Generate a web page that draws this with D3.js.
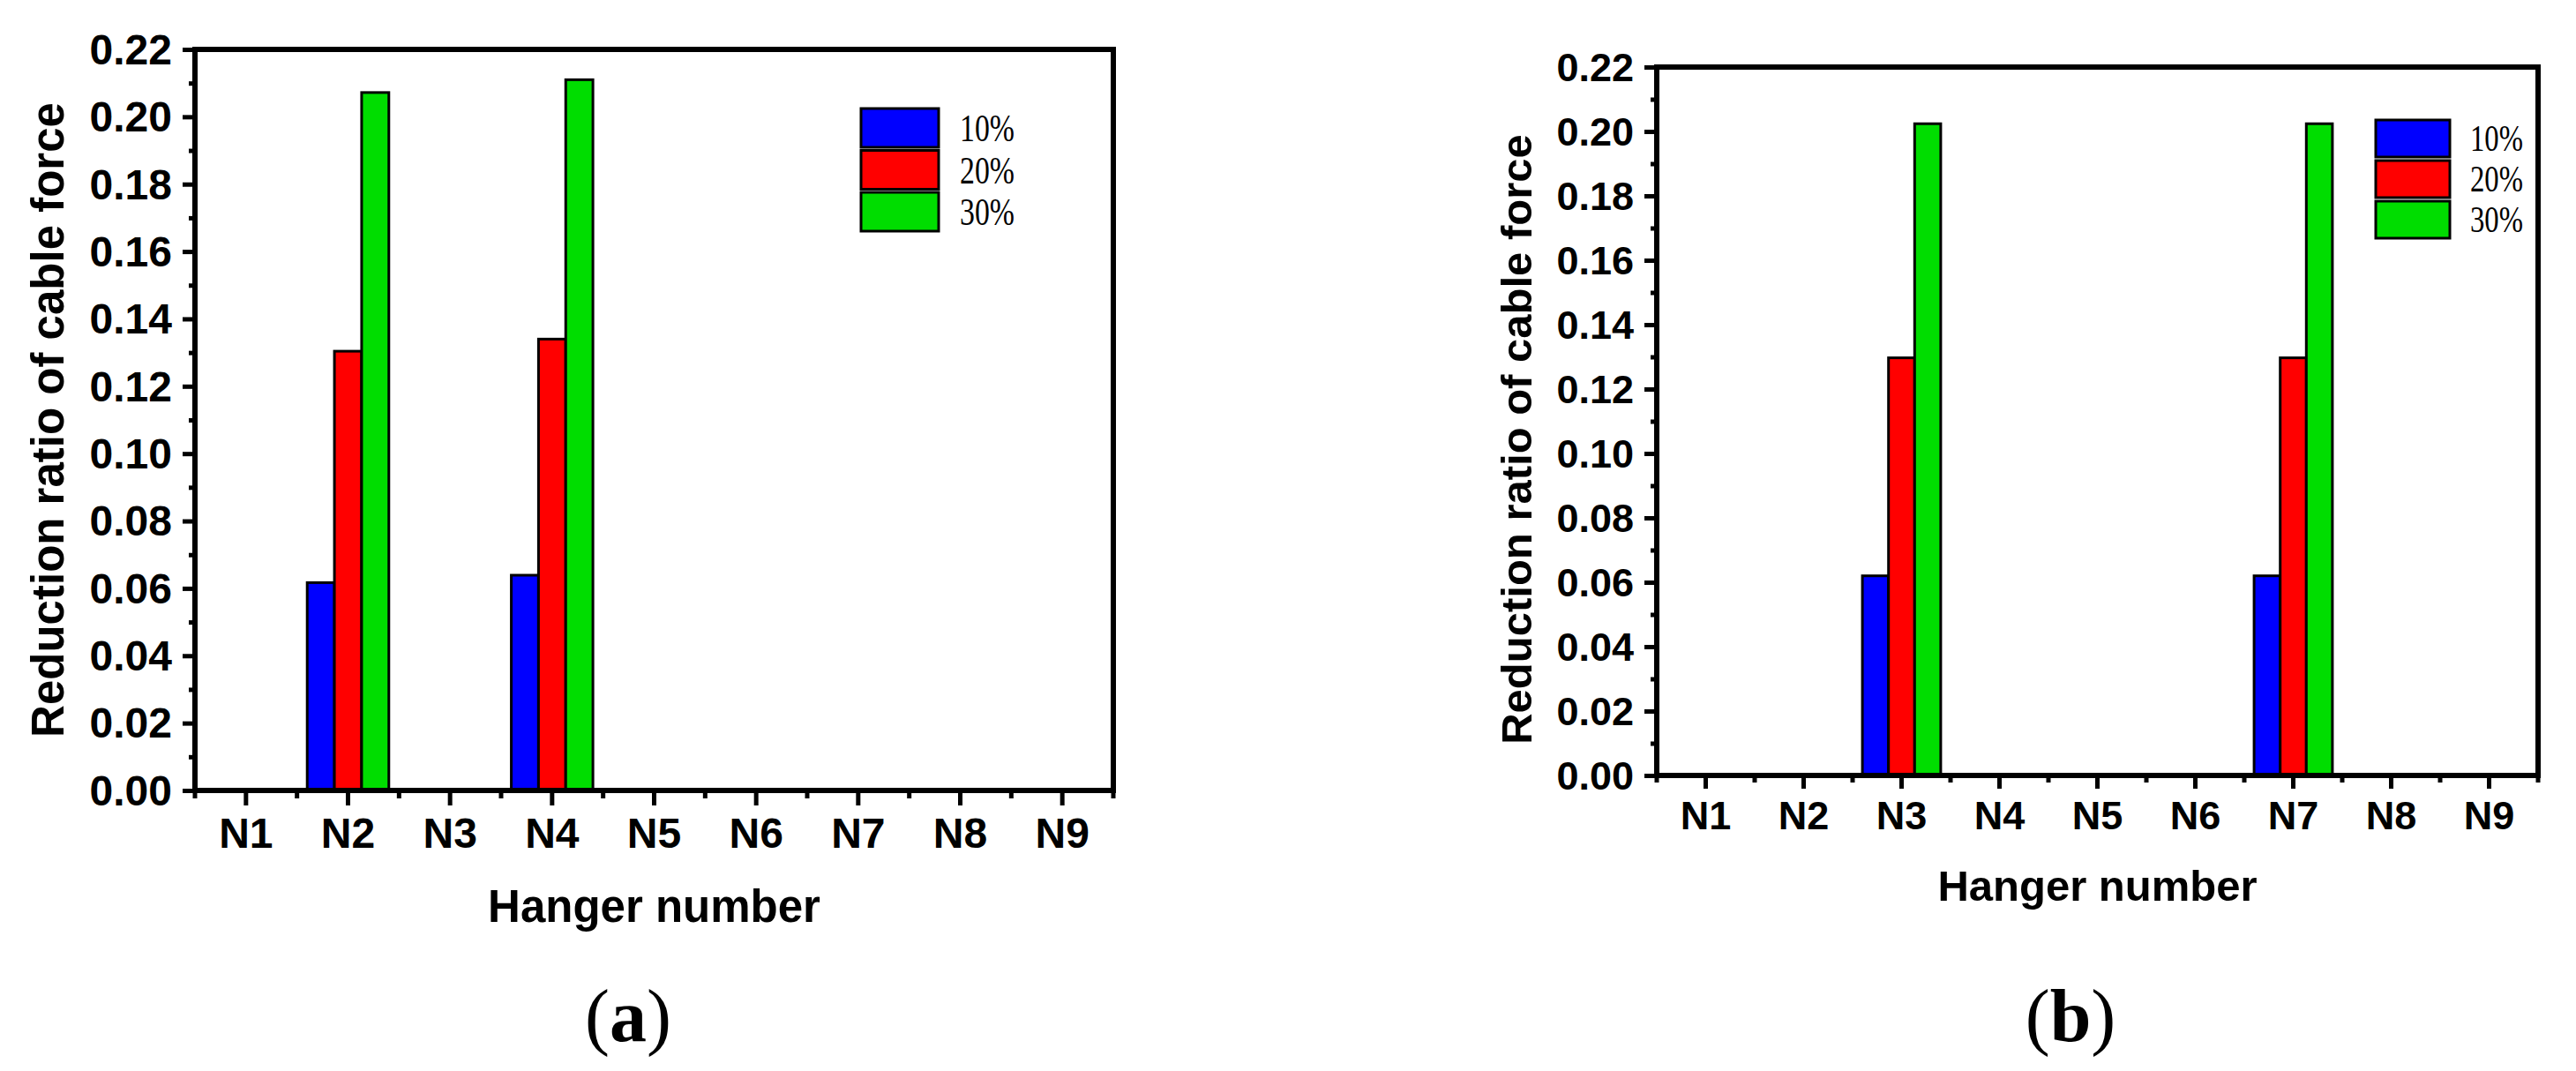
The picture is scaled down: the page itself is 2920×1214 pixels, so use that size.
<!DOCTYPE html>
<html>
<head>
<meta charset="utf-8">
<script src="https://cdn.jsdelivr.net/npm/d3@7"></script>
<style>
  body { margin: 0; background: #fff; }
  svg { display: block; }
  .tick text { font-family: "Liberation Sans", Arial, sans-serif; font-weight: bold; fill: #000; }
</style>
</head>
<body>
<svg id="chart" width="2920" height="1214"></svg>
<script>
// hanger numbers on the x axis
var categories = ['N1', 'N2', 'N3', 'N4', 'N5', 'N6', 'N7', 'N8', 'N9'];
var seriesNames = ['10%', '20%', '30%'];
var seriesColors = ['#0000ff', '#ff0000', '#00dd00'];
var yTickValues = [0, 0.02, 0.04, 0.06, 0.08, 0.10, 0.12, 0.14, 0.16, 0.18, 0.20, 0.22];

// (a) reduction ratio of cable force
var a10 = [0, 0.0617, 0, 0.0639, 0, 0, 0, 0, 0];
var a20 = [0, 0.1304, 0, 0.1340, 0, 0, 0, 0, 0];
var a30 = [0, 0.2072, 0, 0.2110, 0, 0, 0, 0, 0];

// (b) reduction ratio of cable force
var b10 = [0, 0, 0.0620, 0, 0, 0, 0.0620, 0, 0];
var b20 = [0, 0, 0.1297, 0, 0, 0, 0.1297, 0, 0];
var b30 = [0, 0, 0.2024, 0, 0, 0, 0.2024, 0, 0];

var svg = d3.select('#chart');

function drawPanel(p, s10, s20, s30)
{
	var series = [s10, s20, s30];
	var g = svg.append('g');

	var x = d3.scaleBand().domain(categories).range([p.left, p.right]).paddingInner(0).paddingOuter(0);
	var xs = d3.scaleBand().domain(seriesNames)
		.range([x.bandwidth() * 0.1, x.bandwidth() * 0.9]);
	var y = d3.scaleLinear().domain([0, 0.22]).range([p.bottom, p.top]);

	// bars
	categories.forEach(function(c, i)
	{
		var grp = g.append('g').attr('transform', 'translate(' + x(c) + ',0)');
		grp.selectAll('rect')
			.data(seriesNames.map(function(s, k) { return {s: s, k: k, v: series[k][i]}; })
				.filter(function(d) { return d.v > 0; }))
			.enter()
			.append('rect')
			.attr('x', function(d) { return xs(d.s); })
			.attr('width', xs.bandwidth())
			.attr('y', function(d) { return y(d.v); })
			.attr('height', function(d) { return y(0) - y(d.v); })
			.attr('fill', function(d) { return seriesColors[d.k]; })
			.attr('stroke', '#000')
			.attr('stroke-width', 3);
	});

	// frame
	g.append('rect')
		.attr('x', p.left).attr('y', p.top)
		.attr('width', p.right - p.left).attr('height', p.bottom - p.top)
		.attr('fill', 'none').attr('stroke', '#000').attr('stroke-width', 6);

	// y axis major + minor ticks
	var yMajor = g.append('g').attr('transform', 'translate(' + p.left + ',0)')
		.call(d3.axisLeft(y).tickValues(yTickValues).tickSize(14).tickPadding(12)
			.tickFormat(d3.format('.2f')));
	yMajor.select('.domain').remove();
	yMajor.selectAll('line').attr('stroke-width', 5);
	yMajor.selectAll('text').style('font-size', p.tickFont + 'px').attr('dy', '0.34em');

	var yMinor = g.append('g').attr('transform', 'translate(' + p.left + ',0)')
		.call(d3.axisLeft(y).tickValues(y.ticks(22).filter(function(v, i) { return i % 2 == 1; }))
			.tickSize(7).tickFormat(''));
	yMinor.select('.domain').remove();
	yMinor.selectAll('line').attr('stroke-width', 5);

	// x axis major ticks at hanger centres
	var xMajor = g.append('g').attr('transform', 'translate(0,' + (p.bottom + 3) + ')')
		.call(d3.axisBottom(x).tickSize(p.xTick).tickPadding(p.xPad));
	xMajor.select('.domain').remove();
	xMajor.selectAll('line').attr('stroke-width', 5);
	xMajor.selectAll('text').style('font-size', p.xFont + 'px').attr('dy', '0.71em');

	// x axis minor ticks at band edges
	var edges = categories.map(function(c) { return x(c); }).concat([p.right]);
	g.selectAll('line.xminor')
		.data(edges)
		.enter()
		.append('line')
		.attr('class', 'xminor')
		.attr('x1', function(d) { return d; }).attr('x2', function(d) { return d; })
		.attr('y1', p.bottom + 3).attr('y2', p.bottom + 3 + p.xMinor)
		.attr('stroke', '#000').attr('stroke-width', 5);

	// axis titles
	g.append('text')
		.attr('transform', 'translate(' + p.yTitleX + ',' + p.yTitleY + ') rotate(-90)')
		.attr('text-anchor', 'middle')
		.style('font-family', '"Liberation Sans", Arial, sans-serif')
		.style('font-weight', 'bold')
		.style('font-size', p.titleFont + 'px')
		.text('Reduction ratio of cable force');

	g.append('text')
		.attr('x', (p.left + p.right) / 2).attr('y', p.xTitleY)
		.attr('text-anchor', 'middle')
		.style('font-family', '"Liberation Sans", Arial, sans-serif')
		.style('font-weight', 'bold')
		.style('font-size', p.titleFont + 'px')
		.text('Hanger number');

	// legend
	seriesNames.forEach(function(s, k)
	{
		var ly = p.legY + k * p.legStep;
		g.append('rect')
			.attr('x', p.legX).attr('y', ly)
			.attr('width', p.legW).attr('height', p.legH)
			.attr('fill', seriesColors[k]).attr('stroke', '#000').attr('stroke-width', 3);
		g.append('text')
			.attr('x', p.legTextX).attr('y', ly + p.legH - 7)
			.attr('textLength', p.legTextW).attr('lengthAdjust', 'spacingAndGlyphs')
			.style('font-family', '"Liberation Serif", "Times New Roman", serif')
			.style('font-size', p.legFont + 'px')
			.text(s);
	});

	// panel label
	var lab = g.append('text')
		.attr('x', p.labelX).attr('y', 1180)
		.attr('text-anchor', 'middle')
		.style('font-family', '"Liberation Serif", "Times New Roman", serif')
		.style('font-size', '84px');
	lab.append('tspan').text('(');
	lab.append('tspan').style('font-weight', 'bold').text(p.label);
	lab.append('tspan').text(')');
}

drawPanel({
	left: 221, right: 1262, top: 56, bottom: 896,
	tickFont: 48, xFont: 48, titleFont: 51, xTick: 14, xMinor: 6, xPad: 14,
	yTitleX: 72, yTitleY: 476, xTitleY: 1045,
	legX: 976, legY: 123, legW: 88, legH: 44, legStep: 47.5,
	legTextX: 1088, legTextW: 62, legFont: 44,
	labelX: 712, label: 'a'
}, a10, a20, a30);

drawPanel({
	left: 1878, right: 2877, top: 76, bottom: 879,
	tickFont: 45, xFont: 45, titleFont: 49, xTick: 12, xMinor: 5, xPad: 14,
	yTitleX: 1736, yTitleY: 498, xTitleY: 1021,
	legX: 2693, legY: 136, legW: 84, legH: 42, legStep: 46,
	legTextX: 2800, legTextW: 60, legFont: 42,
	labelX: 2347, label: 'b'
}, b10, b20, b30);
</script>
</body>
</html>
